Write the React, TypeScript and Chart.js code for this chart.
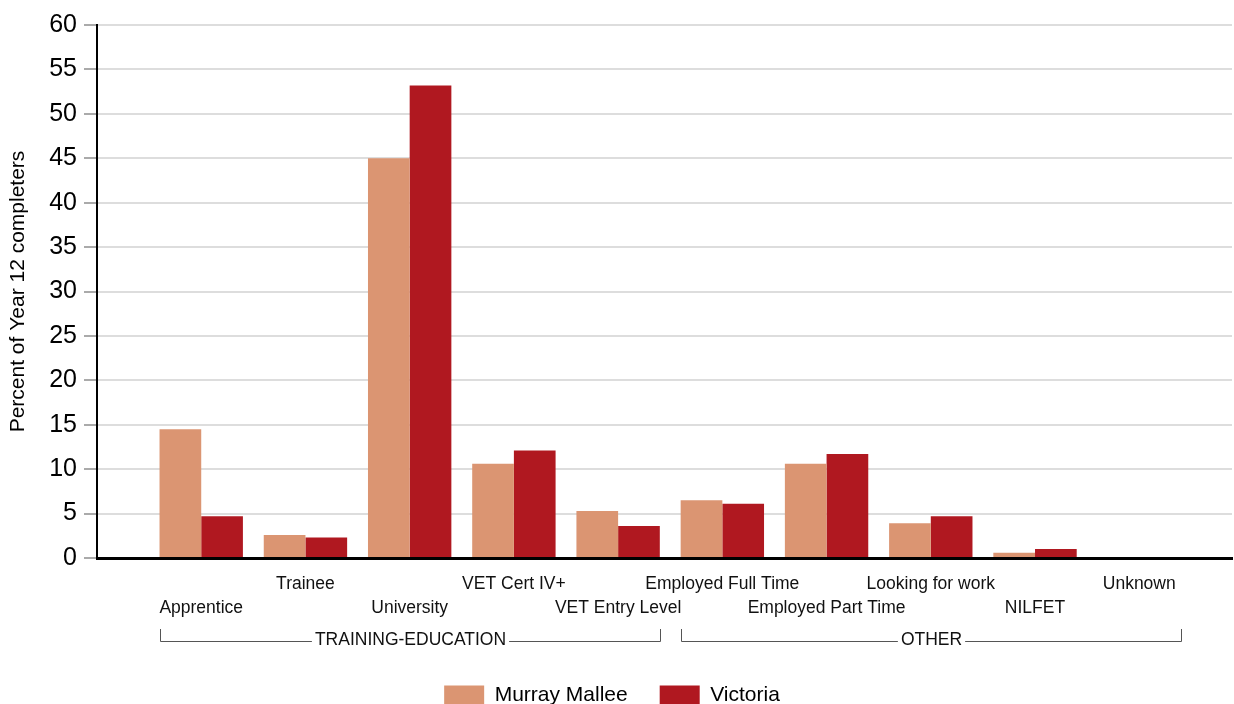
import React, { useEffect, useRef } from 'react';
import { Chart, registerables } from 'chart.js';

Chart.register(...registerables);

const categories = [
  'Apprentice',
  'Trainee',
  'University',
  'VET Cert IV+',
  'VET Entry Level',
  'Employed Full Time',
  'Employed Part Time',
  'Looking for work',
  'NILFET',
  'Unknown',
];
const murrayMallee = [14.5, 2.6, 45.0, 10.6, 5.3, 6.5, 10.6, 3.9, 0.6, 0];
const victoria = [4.7, 2.3, 53.2, 12.1, 3.6, 6.1, 11.7, 4.7, 1.0, 0];
const seriesNames = ['Murray Mallee', 'Victoria'];
const groupNames = ['TRAINING-EDUCATION', 'OTHER'];
const groupStart = [0, 5];
const groupEnd = [4, 9];
const yTickValues = [0, 5, 10, 15, 20, 25, 30, 35, 40, 45, 50, 55, 60];

const FONT = '"Liberation Sans", Arial, sans-serif';
const CAT_PCT = 0.8;

const groupBracket = {
  id: 'groupBracket',
  afterDraw(chart: any) {
    const { ctx, chartArea } = chart;
    const x = chart.scales.x;
    const yLine = Math.round(chartArea.bottom + 83) + 0.5;
    const yTop = chartArea.bottom + 71;
    ctx.save();
    ctx.font = `17.5px ${FONT}`;
    ctx.strokeStyle = '#555';
    ctx.lineWidth = 1;
    ctx.fillStyle = '#111';
    ctx.textAlign = 'center';
    ctx.textBaseline = 'middle';
    groupNames.forEach((name, g) => {
      const x0 = Math.round(x.getPixelForValue(groupStart[g] - CAT_PCT / 2)) + 0.5;
      const x1 = Math.round(x.getPixelForValue(groupEnd[g] + CAT_PCT / 2)) + 0.5;
      const xm = (x0 + x1) / 2;
      const tw = ctx.measureText(name).width;
      const gap = 3;
      ctx.beginPath();
      ctx.moveTo(x0, yTop);
      ctx.lineTo(x0, yLine);
      ctx.lineTo(xm - tw / 2 - gap, yLine);
      ctx.moveTo(xm + tw / 2 + gap, yLine);
      ctx.lineTo(x1, yLine);
      ctx.lineTo(x1, yTop);
      ctx.stroke();
      ctx.fillText(name, xm, yLine - 1);
    });
    ctx.restore();
  },
};

// nudge the bottom legend slightly left, as in the reference layout
const legendNudge = {
  id: 'legendNudge',
  afterLayout(chart: any) {
    const lg = chart.legend;
    if (lg) {
      lg.left -= 4;
      lg.right -= 4;
    }
  },
};

export default function App() {
  const ref = useRef<HTMLCanvasElement>(null);

  useEffect(() => {
    if (!ref.current) return;
    const chart = new Chart(ref.current, {
      type: 'bar',
      data: {
        datasets: [
          {
            label: seriesNames[0],
            data: murrayMallee.map((v, i) => ({ x: i, y: v })),
            backgroundColor: '#DB9572',
            borderWidth: 0,
            categoryPercentage: CAT_PCT,
            barPercentage: 1.0,
          },
          {
            label: seriesNames[1],
            data: victoria.map((v, i) => ({ x: i, y: v })),
            backgroundColor: '#B01820',
            borderWidth: 0,
            categoryPercentage: CAT_PCT,
            barPercentage: 1.0,
          },
        ],
      },
      options: {
        responsive: false,
        animation: false,
        layout: { padding: { top: 25, right: 2, left: 0, bottom: 0 } },
        plugins: {
          tooltip: { enabled: false },
          legend: {
            position: 'bottom',
            labels: {
              boxWidth: 40,
              boxHeight: 20,
              padding: 32,
              color: '#000',
              font: { family: FONT, size: 21 },
            },
          },
        },
        scales: {
          x: {
            type: 'linear',
            min: -1,
            max: 9.89,
            offset: false,
            grid: { display: false, drawTicks: false },
            border: { display: true, color: '#000', width: 3 },
            afterBuildTicks: (scale: any) => {
              scale.ticks = categories.map((_, i) => ({ value: i }));
            },
            afterFit: (scale: any) => {
              scale.height = 95;
            },
            ticks: {
              autoSkip: false,
              maxRotation: 0,
              minRotation: 0,
              padding: 14,
              color: '#111',
              font: { family: FONT, size: 17.5, lineHeight: 24 / 17.5 },
              callback: (value: any) => {
                const i = Math.round(Number(value));
                const label = categories[i] ?? '';
                return i % 2 === 0 ? ['', label] : [label];
              },
            },
          },
          y: {
            min: 0,
            max: 60,
            afterBuildTicks: (scale: any) => {
              scale.ticks = yTickValues.map((v) => ({ value: v }));
            },
            afterFit: (scale: any) => {
              scale.width = 97;
            },
            grid: {
              color: '#dddddd',
              lineWidth: 2,
              tickLength: 13,
              tickColor: '#aaaaaa',
              tickWidth: 2,
            },
            border: { display: true, color: '#000', width: 2 },
            ticks: {
              padding: 7,
              color: '#000',
              font: { family: FONT, size: 25 },
            },
            title: {
              display: true,
              text: 'Percent of Year 12 completers',
              color: '#000',
              font: { family: FONT, size: 21 },
              padding: { top: 6, bottom: 0 },
            },
          },
        },
      },
      plugins: [groupBracket, legendNudge],
    });
    return () => chart.destroy();
  }, []);

  return (
    <div style={{ position: 'fixed', left: 0, top: 0, width: 1234, height: 716, background: '#fff' }}>
      <canvas ref={ref} width={1234} height={716} style={{ display: 'block' }} />
    </div>
  );
}
